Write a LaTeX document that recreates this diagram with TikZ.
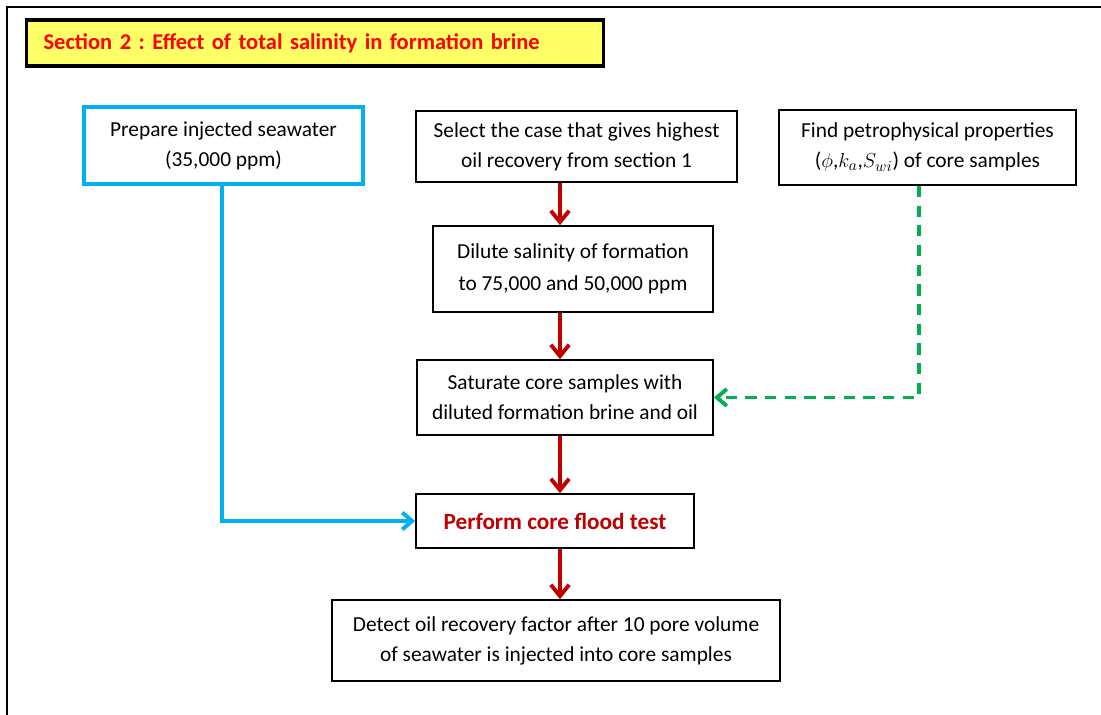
\documentclass[tikz,border=0pt]{standalone}
\usepackage{fontspec}
\setmainfont{Carlito}
\frenchspacing
\usetikzlibrary{arrows.meta}
\definecolor{darkred}{RGB}{192,0,0}
\definecolor{skyblue}{RGB}{0,176,240}
\definecolor{leafgreen}{RGB}{0,176,80}
\definecolor{titleyellow}{RGB}{255,255,102}

\begin{document}
\begin{tikzpicture}[x=0.025cm, y=-0.025cm,
    stepbox/.style={draw, line width=1.2pt, inner sep=2pt, align=center,
      font=\fontsize{15.2}{21.3}\selectfont},
    flowarrow/.style={draw=darkred, line width=2.8pt,
      -{Straight Barb[length=8pt, width=13pt, line width=2.8pt]}},
    feedarrow/.style={draw=skyblue, line width=2.8pt,
      -{Straight Barb[length=7pt, width=12pt, line width=2.8pt]}},
    proparrow/.style={draw=leafgreen, line width=2.8pt, dash pattern=on 8pt off 6pt,
      -{Straight Barb[length=7pt, width=12pt, line width=2.8pt]}}]
  \useasboundingbox (0,0) rectangle (1101,715);

  % Draw the outer frame
  \draw[line width=0.8pt] (7,715) -- (7,7) -- (1101,7);

  % Draw the title box
  \node[draw, line width=2.2pt, fill=titleyellow, anchor=west, minimum height=1.15cm,
    inner xsep=0.425cm, text width=13.575cm, align=left,
    font=\fontsize{16}{18}\selectfont\bfseries, text=red] (title) at (25,43)
    {Section 2 : Effect of total salinity in formation brine};

  % Draw the boxes of the first row
  \node[stepbox, draw=skyblue, line width=3pt, minimum width=6.975cm, minimum height=1.925cm]
    (prep) at (223.5,145.5) {Prepare injected seawater\\(35,000 ppm)};
  \node[stepbox, minimum width=8.025cm, minimum height=1.775cm]
    (sel) at (576.5,146.5) {Select the case that gives highest\\oil recovery from section 1};
  \node[stepbox, minimum width=7.425cm, minimum height=1.875cm]
    (find) at (927.5,147.5) {Find petrophysical properties\\($\phi$,$k_a$,$S_{wi}$) of core samples};

  % Draw the boxes of the main column
  \node[stepbox, minimum width=7cm, minimum height=2.15cm, font=\fontsize{15.2}{23}\selectfont]
    (dil) at (573,269) {Dilute salinity of formation\\to 75,000 and 50,000 ppm};
  \node[stepbox, minimum width=7.4cm, minimum height=1.875cm]
    (sat) at (565,397.5) {Saturate core samples with\\diluted formation brine and oil};
  \node[stepbox, minimum width=6.95cm, minimum height=1.35cm,
    font=\fontsize{16.5}{21.3}\selectfont\bfseries, text=darkred]
    (perf) at (555,521) {Perform core flood test};
  \node[stepbox, minimum width=11.2cm, minimum height=2.025cm]
    (det) at (556,640.5) {Detect oil recovery factor after 10 pore volume\\of seawater is injected into core samples};

  % Columns of the connectors
  \coordinate (spine) at (560,0);
  \coordinate (bluex) at (222,0);
  \coordinate (greenx) at (919,0);

  % Draw the red arrows down the main column
  \draw[flowarrow] (sel.south -| spine) -- (dil.north -| spine);
  \draw[flowarrow] (dil.south -| spine) -- (sat.north -| spine);
  \draw[flowarrow] (sat.south -| spine) -- (perf.north -| spine);
  \draw[flowarrow] (perf.south -| spine) -- (det.north -| spine);

  % Draw the side connectors
  \draw[feedarrow] (prep.south -| bluex) |- (perf.west);
  \draw[proparrow] (find.south -| greenx) |- (sat.east);
\end{tikzpicture}
\end{document}
